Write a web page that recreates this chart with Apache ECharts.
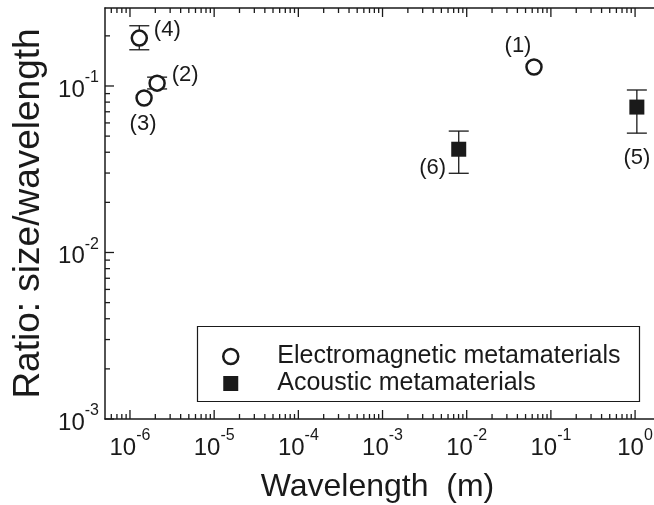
<!DOCTYPE html>
<html lang="en">
<head>
    <meta charset="UTF-8">
    <title>Ratio vs wavelength</title>
    <style>
        body { margin: 0; background: #fff; }
        #chart { width: 654px; height: 505px; }
    </style>
</head>
<body>
<div id="chart"></div>
<script src="https://cdn.jsdelivr.net/npm/echarts@6.0.0/dist/echarts.min.js"></script>
<script>
    // electromagnetic points (1)-(4)
    var emNames = ['(1)', '(2)', '(3)', '(4)'];
    var emX = [0.063, 2.1e-6, 1.47e-6, 1.29e-6];
    var emY = [0.13, 0.104, 0.0847, 0.194];
    var emLow = [null, 0.096, null, 0.165];
    var emHigh = [null, 0.113, null, 0.23];

    // acoustic points (5)-(6)
    var acNames = ['(5)', '(6)'];
    var acX = [1.05, 8.04e-3];
    var acY = [0.0747, 0.0417];
    var acLow = [0.0521, 0.0299];
    var acHigh = [0.0946, 0.0536];

    var seriesNames = ['Electromagnetic metamaterials', 'Acoustic metamaterials'];

    // axis range (plot box runs a bit past the right edge of the page)
    var xMin = 5.05e-7, xMax = 2.9;
    var yMin = 1e-3, yMax = 0.294;

    // label offsets (layout only)
    var emOffsets = [[-16, -21], [28, -8], [-1, 26], [28, -8]];
    var acOffsets = [[0, 51], [-26, 19]];

    var ink = '#1a1a1a';
    var font = 'Liberation Sans, Arial, sans-serif';

    function isDecade(v) {
        var l = Math.log10(v);
        return Math.abs(l - Math.round(l)) < 1e-6;
    }
    function decadeLabel(v) {
        if (!isDecade(v)) return '';
        return '{b|10}{s|' + Math.round(Math.log10(v)) + '}';
    }
    var richLab = {
        b: {fontSize: 24, fontFamily: font, color: ink, verticalAlign: 'bottom', lineHeight: 32},
        s: {fontSize: 16, fontFamily: font, color: ink, verticalAlign: 'top', lineHeight: 32}
    };

    // tick positions for log axes (decoration)
    function logTicks(lo, hi) {
        var out = [];
        for (var e = -8; e <= 1; e++) {
            for (var m = 1; m <= 9; m++) {
                var v = m * Math.pow(10, e);
                if (v >= lo * 0.9999 && v <= hi * 1.0001) out.push([v, m === 1 ? 1 : 0]);
            }
        }
        return out;
    }
    var xTicks = logTicks(xMin, xMax).map(function (t) { return [t[0], yMin, t[1]]; });
    var yTicks = logTicks(yMin, yMax).map(function (t) { return [xMin, t[0], t[1]]; });

    function errData(xs, lo, hi) {
        var d = [];
        for (var i = 0; i < xs.length; i++) {
            if (lo[i] != null) d.push([xs[i], lo[i], hi[i]]);
        }
        return d;
    }

    var lineStyle = {stroke: ink, lineWidth: 1.3};

    function renderErr(params, api) {
        var a = api.coord([api.value(0), api.value(1)]);
        var b = api.coord([api.value(0), api.value(2)]);
        var w = 10;
        return {
            type: 'group',
            children: [
                {type: 'line', shape: {x1: a[0], y1: a[1], x2: b[0], y2: b[1]}, style: lineStyle},
                {type: 'line', shape: {x1: a[0] - w, y1: a[1], x2: a[0] + w, y2: a[1]}, style: lineStyle},
                {type: 'line', shape: {x1: b[0] - w, y1: b[1], x2: b[0] + w, y2: b[1]}, style: lineStyle}
            ]
        };
    }

    function renderXTick(params, api) {
        var v = api.value(0);
        var len = api.value(2) ? 9 : 5;
        var p = api.coord([v, yMin]);
        var q = api.coord([v, yMax]);
        return {
            type: 'group', silent: true,
            children: [
                {type: 'line', shape: {x1: p[0], y1: p[1], x2: p[0], y2: p[1] - len}, style: lineStyle},
                {type: 'line', shape: {x1: q[0], y1: q[1], x2: q[0], y2: q[1] + len}, style: lineStyle}
            ]
        };
    }
    function renderYTick(params, api) {
        var v = api.value(1);
        var len = api.value(2) ? 9 : 5;
        var p = api.coord([xMin, v]);
        return {
            type: 'line', silent: true,
            shape: {x1: p[0], y1: p[1], x2: p[0] + len, y2: p[1]}, style: lineStyle
        };
    }

    function pointLabel(names) {
        return {
            show: true,
            position: 'inside',
            formatter: function (p) { return names[p.dataIndex]; },
            color: ink,
            fontSize: 22,
            fontFamily: font
        };
    }
    function labeledData(xs, ys, offsets) {
        return xs.map(function (x, i) {
            return {value: [x, ys[i]], label: {offset: offsets[i]}};
        });
    }

    var myChart = echarts.init(document.getElementById('chart'));
    var option = {
        animation: false,
        backgroundColor: '#fff',
        grid: {left: 105, right: -20, top: 8, bottom: 86, containLabel: false, outerBoundsMode: 'none'},
        xAxis: [{
            type: 'log', logBase: 10, min: xMin, max: xMax,
            axisLine: {lineStyle: {color: ink, width: 1.5}},
            axisTick: {show: false},
            splitLine: {show: false},
            axisLabel: {margin: 9, formatter: decadeLabel, rich: richLab, showMinLabel: false, showMaxLabel: false},
            name: 'Wavelength  (m)',
            nameLocation: 'middle',
            nameGap: 52,
            nameTextStyle: {fontSize: 32, fontFamily: font, color: ink, padding: [0, 24, 0, 0]}
        }, {
            type: 'log', logBase: 10, min: xMin, max: xMax, position: 'top',
            axisLine: {lineStyle: {color: ink, width: 1.5}},
            axisTick: {show: false},
            splitLine: {show: false},
            axisLabel: {show: false}
        }],
        yAxis: {
            type: 'log', logBase: 10, min: yMin, max: yMax,
            axisLine: {lineStyle: {color: ink, width: 1.5}},
            axisTick: {show: false},
            splitLine: {show: false},
            axisLabel: {margin: 6, formatter: decadeLabel, rich: richLab, showMaxLabel: false},
            name: 'Ratio: size/wavelength',
            nameLocation: 'middle',
            nameGap: 55,
            nameTextStyle: {fontSize: 37, fontFamily: font, color: ink}
        },
        legend: {
            orient: 'vertical',
            left: 217, top: 339,
            itemWidth: 15, itemHeight: 15,
            itemGap: 2,
            data: [
                {name: seriesNames[0], icon: 'circle', itemStyle: {color: '#fff', borderColor: ink, borderWidth: 2.5}},
                {name: seriesNames[1], icon: 'rect', itemStyle: {color: ink}}
            ],
            textStyle: {fontSize: 25, fontFamily: font, color: ink, padding: [0, 0, 0, 34]}
        },
        graphic: [{
            type: 'rect', left: 195, top: 324,
            shape: {width: 442, height: 75},
            style: {fill: 'none', stroke: ink, lineWidth: 1.2},
            z: 1
        }],
        series: [
            {
                type: 'custom', renderItem: renderXTick, data: xTicks, clip: false, silent: true, z: 1,
                encode: {x: 0, y: 1}
            },
            {
                type: 'custom', renderItem: renderYTick, data: yTicks, clip: false, silent: true, z: 1,
                encode: {x: 0, y: 1}
            },
            {
                type: 'custom', renderItem: renderErr, data: errData(emX, emLow, emHigh), z: 2,
                encode: {x: 0, y: [1, 2]}
            },
            {
                type: 'custom', renderItem: renderErr, data: errData(acX, acLow, acHigh), z: 2,
                encode: {x: 0, y: [1, 2]}
            },
            {
                name: seriesNames[0], type: 'scatter', z: 5,
                symbol: 'circle', symbolSize: 15,
                itemStyle: {color: '#fff', borderColor: ink, borderWidth: 2.5, opacity: 1},
                label: pointLabel(emNames),
                data: labeledData(emX, emY, emOffsets)
            },
            {
                name: seriesNames[1], type: 'scatter', z: 5,
                symbol: 'rect', symbolSize: 15,
                itemStyle: {color: ink, opacity: 1},
                label: pointLabel(acNames),
                data: labeledData(acX, acY, acOffsets)
            }
        ]
    };
    myChart.setOption(option);
</script>
</body>
</html>
